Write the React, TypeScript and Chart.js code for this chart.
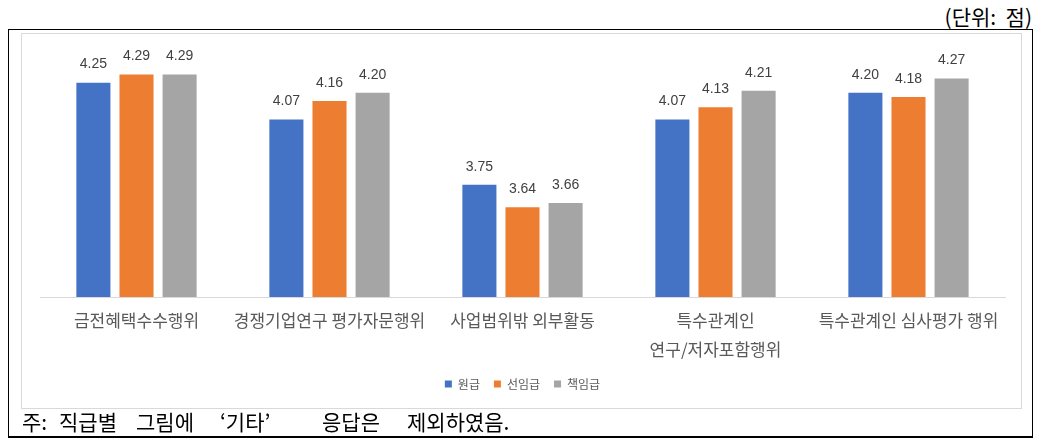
import React, { useEffect, useRef } from "react";
import { Chart, registerables } from "chart.js";

Chart.register(...registerables);

const categories: (string | string[])[] = [
  "금전혜택수수행위",
  "경쟁기업연구 평가자문행위",
  "사업범위밖 외부활동",
  ["특수관계인", "연구/저자포함행위"],
  "특수관계인 심사평가 행위",
];
const seriesNames = ["원급", "선임급", "책임급"];
const juniorValues = [4.25, 4.07, 3.75, 4.07, 4.2];
const seniorValues = [4.29, 4.16, 3.64, 4.13, 4.18];
const leadValues = [4.29, 4.2, 3.66, 4.21, 4.27];
const seriesColors = ["#4472C4", "#ED7D31", "#A5A5A5"];
const yMin = 3.2;
const yMax = 4.4;

const footWords = [
  { t: "주:", x: 22 },
  { t: "직급별", x: 59 },
  { t: "그림에", x: 136 },
  { t: "‘기타’", x: 220 },
  { t: "응답은", x: 322 },
  { t: "제외하였음.", x: 407 },
];

const KFONT = "'Noto Sans CJK KR', 'Noto Sans', sans-serif";

const dataLabelPlugin = {
  id: "dataLabels",
  afterDatasetsDraw(chart: any) {
    const ctx = chart.ctx;
    ctx.save();
    ctx.font = "14px 'Liberation Sans', 'Noto Sans', sans-serif";
    ctx.fillStyle = "#404040";
    ctx.textAlign = "center";
    ctx.textBaseline = "middle";
    chart.data.datasets.forEach((ds: any, i: number) => {
      const meta = chart.getDatasetMeta(i);
      meta.data.forEach((bar: any, j: number) => {
        ctx.fillText(Number(ds.data[j]).toFixed(2), bar.x, bar.y - 18);
      });
    });
    ctx.restore();
  },
};

export default function App() {
  const ref = useRef<HTMLCanvasElement>(null);
  useEffect(() => {
    if (!ref.current) return;
    const chart = new Chart(ref.current, {
      type: "bar",
      data: {
        labels: categories,
        datasets: [juniorValues, seniorValues, leadValues].map((d, i) => ({
          label: seriesNames[i],
          data: d,
          backgroundColor: seriesColors[i],
          categoryPercentage: 0.67,
          barPercentage: 0.79,
        })),
      },
      options: {
        animation: false,
        responsive: false,
        maintainAspectRatio: false,
        layout: { padding: { left: 18, right: 16, top: 18, bottom: 8 } },
        plugins: {
          tooltip: { enabled: false },
          legend: {
            position: "bottom",
            labels: {
              boxWidth: 7,
              boxHeight: 7,
              padding: 14,
              color: "#595959",
              font: { size: 12, family: KFONT },
            },
          },
        },
        scales: {
          x: {
            grid: { display: false, drawTicks: false },
            border: { display: true, color: "#D9D9D9", width: 1 },
            ticks: {
              color: "#595959",
              font: { size: 17, family: KFONT, lineHeight: 1.65 },
              padding: 10,
              maxRotation: 0,
              autoSkip: false,
            },
            afterFit: (s: any) => {
              s.height = 67;
            },
          },
          y: {
            display: false,
            min: yMin,
            max: yMax,
          },
        },
      },
      plugins: [dataLabelPlugin],
    });
    return () => chart.destroy();
  }, []);

  return (
    <div style={{ position: "absolute", left: 0, top: 0, width: 1041, height: 448, background: "#fff", overflow: "hidden" }}>
      <div style={{ position: "absolute", right: 9, top: 2, fontSize: 21, fontFamily: KFONT, color: "#000", lineHeight: "28px", whiteSpace: "pre" }}>
        (단위:  점)
      </div>
      <div style={{ position: "absolute", left: 8, top: 29, width: 1025, height: 409, border: "1px solid #000", borderBottomWidth: 2, boxSizing: "border-box" }} />
      <div style={{ position: "absolute", left: 21, top: 33, width: 1001, height: 376, border: "1px solid #D9D9D9", boxSizing: "border-box", background: "#fff" }}>
        <canvas ref={ref} width={999} height={374} style={{ display: "block" }} />
      </div>
      {footWords.map((w, i) => (
        <div key={i} style={{ position: "absolute", left: w.x, top: 408, fontSize: 21, lineHeight: "26px", fontFamily: "'Noto Sans CJK KR', serif", color: "#000", whiteSpace: "pre" }}>
          {w.t}
        </div>
      ))}
    </div>
  );
}
